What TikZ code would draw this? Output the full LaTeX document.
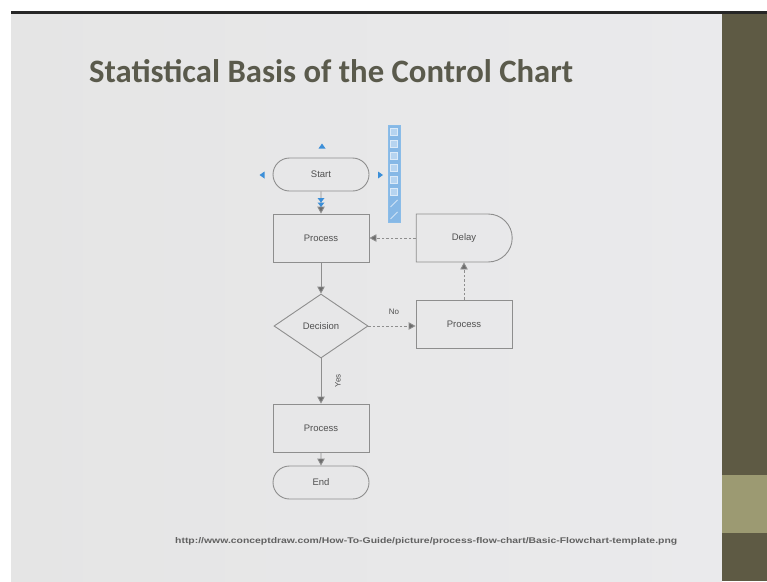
\documentclass[tikz,border=0pt]{standalone}
\usepackage{fontspec}
\usepackage{graphicx}
\setmainfont{Liberation Sans}
\newfontfamily\titlefont{Carlito}
\usetikzlibrary{shapes.geometric,shapes.misc,arrows.meta}

\definecolor{slidebg}{HTML}{E5E5E5}
\definecolor{slidebgright}{HTML}{EAEAEC}
\definecolor{sidebar}{HTML}{5E5A44}
\definecolor{sidelight}{HTML}{9C9A72}
\definecolor{titlecol}{HTML}{5A5A4C}
\definecolor{shapeline}{HTML}{8E8E8E}
\definecolor{shapetext}{HTML}{505050}
\definecolor{handleblue}{HTML}{3C8FD8}
\definecolor{barblue}{HTML}{86B8E6}

\tikzset{
  box/.style={draw=shapeline, line width=0.9pt, rectangle, minimum width=96pt,
    minimum height=48pt, inner sep=0pt, font=\fontsize{9.5}{10}\selectfont,
    text=shapetext},
  term/.style={box, rounded rectangle, minimum height=33pt},
  delayshape/.style={box, rounded rectangle, rounded rectangle left arc=none},
  decision/.style={box, diamond, minimum width=94pt, minimum height=64pt},
  flow/.style={draw=shapeline, line width=0.9pt,
    -{Triangle[length=7pt,width=7.5pt,fill=gray!85!black]}},
  flowdash/.style={flow, dash pattern=on 2.5pt off 2pt},
  lbl/.style={font=\fontsize{8}{9}\selectfont, text=shapetext, inner sep=0pt},
  handle/.style={fill=handleblue, draw=none},
}

\begin{document}
\begin{tikzpicture}[x=1pt,y=-1pt]
  \useasboundingbox (0,0) rectangle (767,581);
  % page frame
  \fill[white] (0,0) rectangle (767,581);
  \shade[left color=slidebg, right color=slidebgright] (11,12) rectangle (722,581);
  \fill[black!85] (11,11) rectangle (767,13.5);
  \fill[sidebar] (722,13.5) rectangle (767,581);
  \fill[sidelight] (722,475) rectangle (767,533);

  % title
  \node[anchor=base west, inner sep=0pt, text=titlecol,
    font=\titlefont\bfseries\fontsize{32.7}{36}\selectfont] (title) at (89,82)
    {Statistical Basis of the Control Chart};

  % flowchart shapes
  \node[term] (start) at (321,174.5) {Start};
  \node[box] (proc1) at (321,238) {Process};
  \node[delayshape] (delay) at (464,238) {Delay};
  \node[decision] (dec) at (321,326) {Decision};
  \node[box] (proc2) at (464,324) {Process};
  \node[box] (proc3) at (321,428) {Process};
  \node[term] (end) at (321,482.5) {End};

  % connectors
  \draw[flow] (start) -- (proc1);
  \draw[flow] (proc1) -- (dec);
  \draw[flowdash] (dec.east) -- (proc2.west |- dec.east);
  \draw[flowdash] (proc2) -- (proc2 |- delay.south);
  \draw[flowdash] (delay.west) -- (proc1.east);
  \draw[flow] (dec) -- (proc3);
  \draw[flow] (proc3) -- (end);
  \node[lbl, anchor=south] (nolbl) at (394,315) {No};
  \node[lbl, rotate=90] (yeslbl) at (338,381) {Yes};

  % selection handles around the start shape
  \fill[handle] (318.5,148.5) -- (325.5,148.5) -- (322,143.5) -- cycle;
  \fill[handle] (264.5,171.5) -- (264.5,178.5) -- (259.5,175) -- cycle;
  \fill[handle] (378,171.5) -- (378,178.5) -- (383,175) -- cycle;
  \fill[handle] (317.5,198) -- (324.5,198) -- (321,202.5) -- cycle;
  \fill[handle] (317.5,202.5) -- (324.5,202.5) -- (321,207) -- cycle;

  % quick shape toolbar
  \fill[barblue] (388,125) rectangle (400,222);
  \draw[handleblue!60!white, line width=0.4pt] (388,125) rectangle (400,222);
  \foreach \k in {0,...,5}{
    \draw[white!70!barblue, line width=0.5pt, fill=barblue!60!white]
      (390.5,128+12*\k) rectangle (397.5,135+12*\k);
  }
  \draw[white!60!barblue, line width=0.8pt] (390.5,207) -- (397.5,200);
  \draw[white!60!barblue, line width=0.8pt] (390.5,219) -- (397.5,212);

  % source reference
  \node[anchor=base west, inner sep=0pt, text=black!62] (src) at (175,543)
    {\resizebox{502pt}{6pt}{\bfseries http://www.conceptdraw.com/How-To-Guide/picture/process-flow-chart/Basic-Flowchart-template.png}};
\end{tikzpicture}
\end{document}
